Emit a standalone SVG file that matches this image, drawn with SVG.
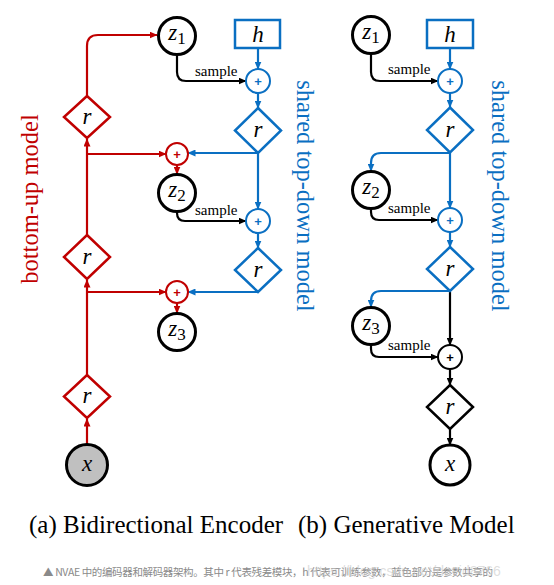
<svg xmlns="http://www.w3.org/2000/svg" width="554" height="585" viewBox="0 0 554 585">
<style>
.red{stroke:#c00000;fill:none;stroke-width:2.2}
.blue{stroke:#0a6fc2;fill:none;stroke-width:2.2}
.blk{stroke:#000;fill:none;stroke-width:2.2}
.zc{fill:#fff;stroke:#000;stroke-width:3}
.dr{fill:#fff;stroke:#c00000;stroke-width:2.5}
.db{fill:#fff;stroke:#0a6fc2;stroke-width:2.5}
.dk{fill:#fff;stroke:#000;stroke-width:2.5}
.pr{fill:#fff;stroke:#c00000;stroke-width:2}
.pb{fill:#fff;stroke:#0a6fc2;stroke-width:2}
.pk{fill:#fff;stroke:#000;stroke-width:2}
.m{font-style:italic;font-size:23px;fill:#000;text-anchor:middle}
.sub{font-style:normal;font-size:17px}
.plus{font-size:13px;font-weight:bold;text-anchor:middle}
.smp{font-size:15px;fill:#000}
.side{font-size:24.5px;text-anchor:middle}
.cap{font-size:25px;fill:#000}
</style>
<defs>
<marker id="ar" markerWidth="8" markerHeight="7" refX="7.5" refY="3.5" orient="auto" markerUnits="userSpaceOnUse"><path d="M0,0 L8,3.5 L0,7 z" fill="#c00000"/></marker>
<marker id="ab" markerWidth="8" markerHeight="7" refX="7.5" refY="3.5" orient="auto" markerUnits="userSpaceOnUse"><path d="M0,0 L8,3.5 L0,7 z" fill="#0a6fc2"/></marker>
<marker id="ak" markerWidth="8" markerHeight="7" refX="7.5" refY="3.5" orient="auto" markerUnits="userSpaceOnUse"><path d="M0,0 L8,3.5 L0,7 z" fill="#000"/></marker>
</defs>
<rect width="554" height="585" fill="#fff"/>

<g id="connectors">
<path class="red" d="M87,96 V46 Q87,35 98,35 H157" marker-end="url(#ar)"/>
<path class="red" d="M87,235 V139" marker-end="url(#ar)"/>
<path class="red" d="M87,154 H166" marker-end="url(#ar)"/>
<path class="red" d="M177,165 V174" marker-end="url(#ar)"/>
<path class="red" d="M87,375 V280" marker-end="url(#ar)"/>
<path class="red" d="M87,292 H166" marker-end="url(#ar)"/>
<path class="red" d="M177,303 V313" marker-end="url(#ar)"/>
<path class="red" d="M87,444 V419" marker-end="url(#ar)"/>
<path class="blue" d="M258,48 V69" marker-end="url(#ab)"/>
<path class="blue" d="M258,93 V108" marker-end="url(#ab)"/>
<path class="blue" d="M258,153 H188" marker-end="url(#ab)"/>
<path class="blue" d="M258,153 V209" marker-end="url(#ab)"/>
<path class="blue" d="M258,233 V248" marker-end="url(#ab)"/>
<path class="blue" d="M258,292 H188" marker-end="url(#ab)"/>
<path class="blk" d="M177,55 V72 Q177,81 186,81 H246" marker-end="url(#ak)"/>
<path class="blk" d="M177,212 V213 Q177,221 185,221 H246" marker-end="url(#ak)"/>
<path class="blue" d="M450,48 V69" marker-end="url(#ab)"/>
<path class="blue" d="M450,93 V107" marker-end="url(#ab)"/>
<path class="blue" d="M450,153 H381 Q371,153 371,163 V171" marker-end="url(#ab)"/>
<path class="blue" d="M450,153 V208" marker-end="url(#ab)"/>
<path class="blue" d="M450,232 V247" marker-end="url(#ab)"/>
<path class="blue" d="M450,291 H381 Q371,291 371,301 V307" marker-end="url(#ab)"/>
<path class="blk" d="M450,292 V345" marker-end="url(#ak)"/>
<path class="blk" d="M450,369 V385" marker-end="url(#ak)"/>
<path class="blk" d="M450,429 V445" marker-end="url(#ak)"/>
<path class="blk" d="M371,54 V72 Q371,81 380,81 H438" marker-end="url(#ak)"/>
<path class="blk" d="M371,209 V212 Q371,220 379,220 H438" marker-end="url(#ak)"/>
<path class="blk" d="M371,345 V349 Q371,357 379,357 H438" marker-end="url(#ak)"/>
<g font-family="'Liberation Serif','Times New Roman','DejaVu Serif',serif">
<text class="smp" x="195" y="76">sample</text>
<text class="smp" x="195" y="215">sample</text>
<text class="smp" x="388" y="74">sample</text>
<text class="smp" x="388" y="213">sample</text>
<text class="smp" x="388" y="350">sample</text>
</g>
</g>

<g font-family="'Liberation Serif','Times New Roman','DejaVu Serif',serif">
<g id="a_z1"><circle class="zc" cx="177" cy="36" r="18.5"/><text class="m" x="177" y="40">z<tspan class="sub" dy="4">1</tspan></text></g>
<g id="a_h"><rect x="235" y="20" width="45" height="28" fill="#fff" stroke="#0a6fc2" stroke-width="2.5"/><text class="m" x="258" y="42">h</text></g>
<g id="a_r1"><path class="db" d="M258,108 L281,130.5 L258,153 L235,130.5 Z"/><text class="m" x="258" y="137">r</text></g>
<g id="a_z2"><circle class="zc" cx="177" cy="193" r="18.5"/><text class="m" x="177" y="197">z<tspan class="sub" dy="4">2</tspan></text></g>
<g id="a_r2"><path class="db" d="M258,248 L281,270 L258,292 L235,270 Z"/><text class="m" x="258" y="276.5">r</text></g>
<g id="a_z3"><circle class="zc" cx="177" cy="332" r="18.5"/><text class="m" x="177" y="336">z<tspan class="sub" dy="4">3</tspan></text></g>
<g id="a_e1"><path class="dr" d="M87,96 L110,117 L87,138 L64,117 Z"/><text class="m" x="87" y="123.5">r</text></g>
<g id="a_e2"><path class="dr" d="M87,235 L110,257 L87,279 L64,257 Z"/><text class="m" x="87" y="263.5">r</text></g>
<g id="a_e3"><path class="dr" d="M87,375 L110,396.5 L87,418 L64,396.5 Z"/><text class="m" x="87" y="403">r</text></g>
<g id="a_x"><circle cx="87" cy="465" r="20.5" fill="#c0c0c0" stroke="#000" stroke-width="3"/><text class="m" x="87" y="471" font-size="26">x</text></g>

<g id="b_z1"><circle class="zc" cx="371" cy="35" r="18.5"/><text class="m" x="371" y="39">z<tspan class="sub" dy="4">1</tspan></text></g>
<g id="b_h"><rect x="427" y="20" width="46" height="28" fill="#fff" stroke="#0a6fc2" stroke-width="2.5"/><text class="m" x="450" y="42">h</text></g>
<g id="b_r1"><path class="db" d="M450,107.5 L473,130 L450,152.5 L427,130 Z"/><text class="m" x="450" y="136.5">r</text></g>
<g id="b_z2"><circle class="zc" cx="371" cy="190" r="18.5"/><text class="m" x="371" y="194">z<tspan class="sub" dy="4">2</tspan></text></g>
<g id="b_r2"><path class="db" d="M450,247 L473,269 L450,291 L427,269 Z"/><text class="m" x="450" y="275.5">r</text></g>
<g id="b_z3"><circle class="zc" cx="371" cy="326" r="18.5"/><text class="m" x="371" y="330">z<tspan class="sub" dy="4">3</tspan></text></g>
<g id="b_r3"><path class="dk" d="M450,385 L473,407 L450,429 L427,407 Z"/><text class="m" x="450" y="413.5">r</text></g>
<g id="b_x"><circle class="zc" cx="450" cy="465" r="20"/><text class="m" x="450" y="471" font-size="26">x</text></g>
</g>

<g font-family="'Liberation Sans','DejaVu Sans',sans-serif">
<g id="a_p1"><circle class="pb" cx="258" cy="81" r="12"/><text class="plus" x="258" y="85.5" fill="#0a6fc2">+</text></g>
<g id="a_rp1"><circle class="pr" cx="177" cy="154" r="11"/><text class="plus" x="177" y="158.5" fill="#c00000">+</text></g>
<g id="a_p2"><circle class="pb" cx="258" cy="221" r="12"/><text class="plus" x="258" y="225.5" fill="#0a6fc2">+</text></g>
<g id="a_rp2"><circle class="pr" cx="177" cy="292" r="11"/><text class="plus" x="177" y="296.5" fill="#c00000">+</text></g>
<g id="b_p1"><circle class="pb" cx="450" cy="81" r="12"/><text class="plus" x="450" y="85.5" fill="#0a6fc2">+</text></g>
<g id="b_p2"><circle class="pb" cx="450" cy="220" r="12"/><text class="plus" x="450" y="224.5" fill="#0a6fc2">+</text></g>
<g id="b_p3"><circle class="pk" cx="450" cy="357" r="12"/><text class="plus" x="450" y="361.5" fill="#000">+</text></g>
</g>

<g font-family="'Liberation Serif','Times New Roman','DejaVu Serif',serif">
<g id="lbl_bottomup"><text class="side" fill="#c00000" transform="translate(38,199) rotate(-90)">bottom-up model</text></g>
<g id="lbl_shared_a"><text class="side" fill="#0a6fc2" transform="translate(297,196) rotate(90)">shared top-down model</text></g>
<g id="lbl_shared_b"><text class="side" fill="#0a6fc2" transform="translate(492,196) rotate(90)">shared top-down model</text></g>
<g id="captions">
<text class="cap" x="29" y="533">(a) Bidirectional Encoder</text>
<text class="cap" x="298" y="533">(b) Generative Model</text>
</g>
</g>
<g id="footnote">
<text x="43" y="576" font-family="'Noto Sans CJK SC',sans-serif" font-size="10.5" fill="#8a8a8a" textLength="450" lengthAdjust="spacing">▲ NVAE 中的编码器和解码器架构。其中 r 代表残差模块，h 代表可训练参数，蓝色部分是参数共享的</text>
<text x="307" y="576" font-family="'Liberation Sans',sans-serif" font-size="14" fill="#c8c8c8" fill-opacity="0.6">https://blog.csdn.net/david8766</text>
</g>
</svg>
